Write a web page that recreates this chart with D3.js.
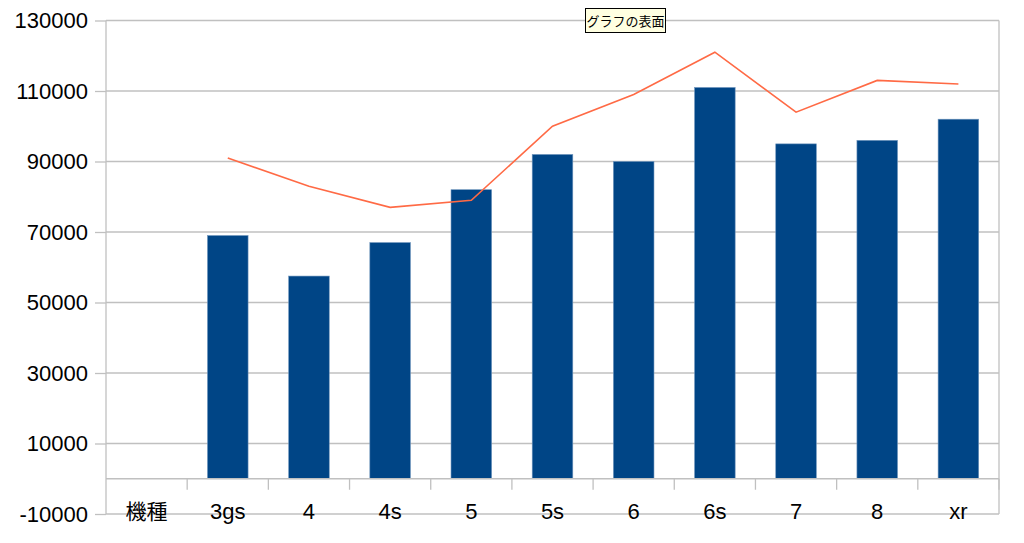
<!DOCTYPE html>
<html><head><meta charset="utf-8">
<script src="https://cdn.jsdelivr.net/npm/d3@7"></script>
<style>body{margin:0;background:#fff}svg{display:block}</style>
</head><body>
<svg id="c" width="1024" height="543"></svg>
<script>
const categories = ["機種","3gs","4","4s","5","5s","6","6s","7","8","xr"];
const barValues  = [null,69000,57500,67000,82000,92000,90000,111000,95000,96000,102000];
const lineValues = [null,91000,83000,77000,79000,100000,109000,121000,104000,113000,112000];
const yTicks = [-10000,10000,30000,50000,70000,90000,110000,130000];
const tooltipText = "グラフの表面";

const svg = d3.select("#c");
const L=106, R=999, T=20.5, B=514;
const x = d3.scaleBand().domain(categories).range([L,R]).paddingInner(0).paddingOuter(0);
const y = d3.scaleLinear().domain([-10000,130000]).range([B,T]);
const grid = "#c0c0c0";

// horizontal gridlines + left ticks
const ya = d3.axisLeft(y).tickValues(yTicks).tickSize(11).tickPadding(7).tickFormat(d=>String(d));
const gy = svg.append("g").attr("transform",`translate(${L},0)`).call(ya);
gy.select(".domain").remove();
gy.selectAll(".tick line").attr("stroke",grid).attr("stroke-width",1.3);
gy.selectAll(".tick text").attr("font-family","Liberation Sans, Arial, sans-serif").attr("font-size",22).attr("fill","#000");
svg.append("g").selectAll("line").data(yTicks).join("line")
  .attr("x1",L).attr("x2",R).attr("y1",d=>y(d)).attr("y2",d=>y(d))
  .attr("stroke",grid).attr("stroke-width",1.3);
// frame verticals
svg.append("line").attr("x1",L).attr("x2",L).attr("y1",T).attr("y2",B).attr("stroke",grid).attr("stroke-width",1.3);
svg.append("line").attr("x1",R).attr("x2",R).attr("y1",T).attr("y2",B).attr("stroke",grid).attr("stroke-width",1.3);

// bars
const bw = x.bandwidth()*0.5;
svg.append("g").selectAll("rect").data(categories.map((c,i)=>({c,v:barValues[i]})).filter(d=>d.v!=null))
  .join("rect")
  .attr("x",d=>x(d.c)+x.bandwidth()/2-bw/2).attr("width",bw)
  .attr("y",d=>y(d.v)).attr("height",d=>y(0)-y(d.v))
  .attr("fill","#004586").attr("stroke","#6f95bd").attr("stroke-width",0.6);

// x axis at zero
const xa = d3.axisBottom(x).tickSize(0).tickFormat("");
svg.append("line").attr("x1",L).attr("x2",R).attr("y1",y(0)).attr("y2",y(0)).attr("stroke",grid).attr("stroke-width",1.3);
const bounds = categories.map(c=>x(c)).concat([R]);
svg.append("g").selectAll("line").data(bounds.slice(1,-1)).join("line")
  .attr("x1",d=>d).attr("x2",d=>d).attr("y1",y(0)).attr("y2",y(0)+11)
  .attr("stroke",grid).attr("stroke-width",1.3);
svg.append("line").attr("x1",R).attr("x2",R).attr("y1",y(0)).attr("y2",y(0)+11).attr("stroke",grid).attr("stroke-width",1.3);
svg.append("g").selectAll("text").data(categories).join("text")
  .attr("x",d=>x(d)+x.bandwidth()/2).attr("y",519)
  .attr("text-anchor","middle")
  .attr("font-family",d=>/[^\x00-\x7f]/.test(d)?"Noto Sans CJK JP, sans-serif":"Liberation Sans, Arial, sans-serif")
  .attr("font-size",d=>/[^\x00-\x7f]/.test(d)?21:22)
  .attr("fill","#000").text(d=>d);

// line
const pts = categories.map((c,i)=>({c,v:lineValues[i]})).filter(d=>d.v!=null);
svg.append("path").datum(pts)
  .attr("d",d3.line().x(d=>x(d.c)+x.bandwidth()/2).y(d=>y(d.v)))
  .attr("fill","none").attr("stroke","#ff6a45").attr("stroke-width",1.6);

// tooltip
const tg = svg.append("g");
tg.append("rect").attr("x",585.5).attr("y",8.5).attr("width",80).attr("height",24)
  .attr("fill","#ffffe1").attr("stroke","#000").attr("stroke-width",1);
tg.append("text").attr("x",625.5).attr("y",26).attr("text-anchor","middle")
  .attr("font-family","Noto Sans CJK JP, sans-serif").attr("font-size",13).attr("fill","#000").text(tooltipText);
</script>
</body></html>
